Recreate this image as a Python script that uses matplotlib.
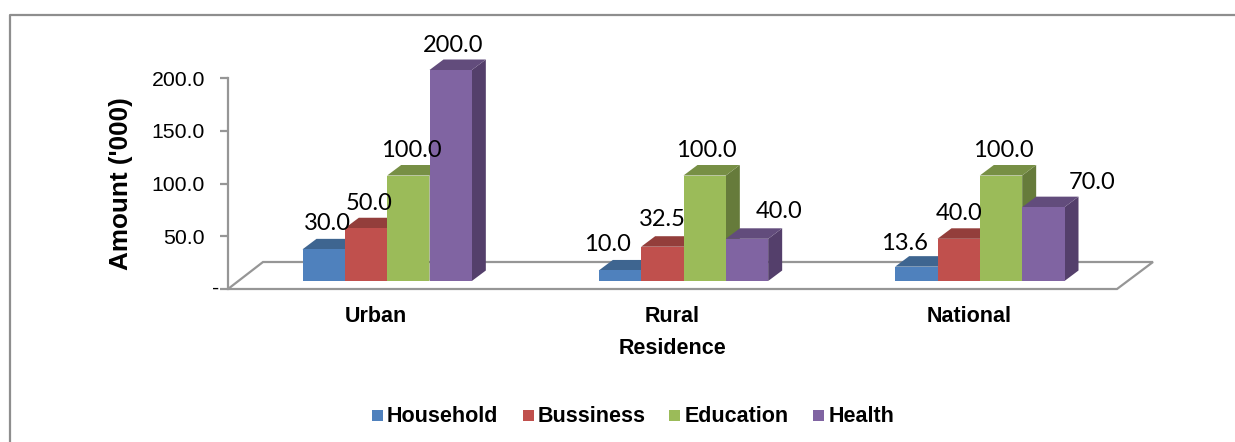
import matplotlib
matplotlib.use('Agg')
import matplotlib.pyplot as plt
from matplotlib.lines import Line2D
from matplotlib.patches import Polygon, Rectangle

# data
residence = ['Urban', 'Rural', 'National']
household = [30.0, 10.0, 13.6]
bussiness = [50.0, 32.5, 40.0]
education = [100.0, 100.0, 100.0]
health = [200.0, 40.0, 70.0]
names = ['Household', 'Bussiness', 'Education', 'Health']
y_ticks = [0, 50, 100, 150, 200]
y_labels = ['', '50.0', '100.0', '150.0', '200.0']

# front, top, side colours for each series
front = ['#4f81bd', '#c0504d', '#9bbb59', '#8064a2']
top = ['#3e6590', '#933e3b', '#778f45', '#624c7c']
side = ['#35577c', '#7e3533', '#667b3b', '#543f6b']

W, H = 1235, 442
fig = plt.figure(figsize=(W / 100, H / 100), dpi=100)
fig.patch.set_facecolor('white')

# outer frame: only the top and left edges show in the crop
fig.add_artist(Line2D([9.5 / W, 9.5 / W, 1], [0, 1 - 14.5 / H, 1 - 14.5 / H], transform=fig.transFigure,
                      color='#8e8e8e', linewidth=1.6))

ax = fig.add_axes([228 / W, 1 - 289 / H, 889 / W, 211 / H])
ax.set_xlim(0, 3)
ax.set_ylim(0, 200)
ax.patch.set_visible(False)

px_x = 3 / 889
px_y = 200 / 211
grey = '#969696'

# floor of the 3d box
floor = Polygon([(0, 0), (35 * px_x, 27 * px_y), (925 * px_x, 27 * px_y), (889 * px_x, 0)],
                closed=True, facecolor='white', edgecolor=grey, linewidth=1.6, clip_on=False)
ax.add_patch(floor)

bar_w = 1 / 7
dx = 14 * px_x
dy = 10.5 * px_y
base = 8 * px_y
shift = 11 * px_x
series = [household, bussiness, education, health]

# hand placed label offsets in pixels, one row per group
label_dx = [[25, 24.5, 24, 23.5], [9, 21.5, 23, 53], [9, 22, 23, 70]]
label_dy = [[26, 25, 25, 25], [25.5, 27, 25, 27], [23, 25, 25, 25]]

for g in range(3):
    for s in range(4):
        v = series[s][g]
        x0 = g + 0.5 + shift + (s - 2) * bar_w
        x1 = x0 + bar_w
        y1 = base + v
        ax.add_patch(Polygon([(x1, base), (x1 + dx, base + dy), (x1 + dx, y1 + dy), (x1, y1)],
                             facecolor=side[s], edgecolor='none', clip_on=False, zorder=3))
        ax.add_patch(Polygon([(x0, y1), (x0 + dx, y1 + dy), (x1 + dx, y1 + dy), (x1, y1)],
                             facecolor=top[s], edgecolor='none', clip_on=False, zorder=3))
        ax.add_patch(Rectangle((x0, base), bar_w, v, facecolor=front[s], edgecolor='none',
                               clip_on=False, zorder=3))

for g in range(3):
    for s in range(4):
        v = series[s][g]
        x0 = g + 0.5 + shift + (s - 2) * bar_w
        ax.text(x0 + label_dx[g][s] * px_x, base + v + label_dy[g][s] * px_y, '%.1f' % v, family='Lato',
                fontsize=17, ha='center', va='center', color='black', zorder=5, clip_on=False)

for name in ['top', 'right', 'bottom']:
    ax.spines[name].set_visible(False)
ax.spines['left'].set_color(grey)
ax.spines['left'].set_linewidth(1.6)

ax.set_yticks(y_ticks)
ax.set_yticklabels(y_labels, family='Liberation Sans', fontsize=15.3)
ax.tick_params(axis='y', color=grey, width=1.6, length=6, pad=10.5)
ax.set_xticks([0.5, 1.5, 2.5])
ax.set_xticklabels(residence, family='Liberation Sans', fontsize=15.5, fontweight='bold')
ax.tick_params(axis='x', length=0, pad=12)

# the zero tick is a dash that sits close to the axis
fig.text(216 / W, 1 - 288 / H, '-', family='Liberation Sans', fontsize=15.3, ha='center', va='center')

fig.text(121 / W, 1 - 183.5 / H, "Amount ('000)", family='Liberation Sans', fontsize=18.8, fontweight='bold',
         rotation=90, ha='center', va='center')
fig.text(672 / W, 1 - 349 / H, 'Residence', family='Liberation Sans', fontsize=15.5, fontweight='bold',
         ha='center', va='center')

# legend placed by hand to keep the spacing of the original
legend_sq = [372, 523, 669, 813]
legend_tx = [387, 538, 685, 829]
for i in range(4):
    fig.add_artist(Rectangle((legend_sq[i] / W, 1 - 421 / H), 11 / W, 11 / H, transform=fig.transFigure,
                             facecolor=front[i], edgecolor='none'))
    fig.text(legend_tx[i] / W, 1 - 417 / H, names[i], family='Liberation Sans', fontsize=15.5,
             fontweight='bold', ha='left', va='center')

plt.savefig('out.png', dpi=100)
